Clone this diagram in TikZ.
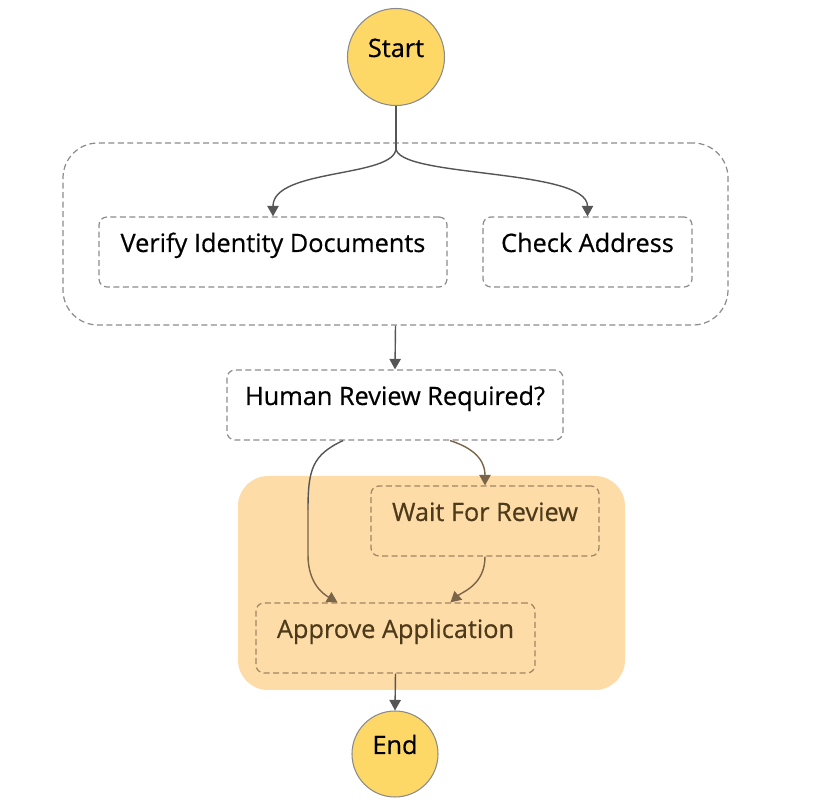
\documentclass[tikz,border=0pt]{standalone}
\usepackage{fontspec}
\setmainfont{Open Sans}[FakeBold=0.5]
\usepackage{tikz}
\usetikzlibrary{arrows.meta,calc}
\definecolor{startyellow}{HTML}{FDD866}
\definecolor{circleline}{HTML}{8A8A8A}
\definecolor{boxline}{HTML}{8C8C8C}
\definecolor{arrowgray}{HTML}{555555}
\definecolor{runfill}{HTML}{FDDCA8}
\definecolor{runline}{HTML}{A08562}
\definecolor{runtext}{HTML}{4D3A1A}
\definecolor{runarrow}{HTML}{7A6548}
\def\pu{0.02cm}
\begin{document}
\begin{tikzpicture}[x=0.02cm,y=-0.02cm,
  every node/.style={font=\fontsize{14.4}{17}\selectfont, text height=0.3cm, text depth=0.3cm, inner sep=0pt},
  state/.style={circle, draw=circleline, line width=0.6pt, fill=startyellow, minimum size=#1*\pu},
  task/.style={draw=boxline, dashed, dash pattern=on 3.4pt off 2pt, line width=0.7pt, rounded corners=0.16cm},
  runtask/.style={task, draw=runline, text=runtext},
  flow/.style={draw=arrowgray, line width=0.8pt, -{Triangle[length=6pt,width=6.5pt]}},
  runflow/.style={flow, draw=runarrow}]
\useasboundingbox (0,0) rectangle (833,810);
\node [task, rounded corners=0.7cm, minimum width=665*\pu, minimum height=182*\pu] (parallel) at (395.5,234) {};
\node [fill=runfill, rounded corners=0.6cm, minimum width=387*\pu, minimum height=214*\pu] (review run) at (431.5,583) {};
\node [state=97] (start) at (396,57) {Start};
\node [task, minimum width=348*\pu, minimum height=70*\pu] (verify) at (273,252) {Verify Identity Documents};
\node [task, minimum width=209*\pu, minimum height=70*\pu] (check) at (587.5,252) {Check Address};
\node [task, minimum width=336*\pu, minimum height=70*\pu] (review) at (395,405) {Human Review Required?};
\node [runtask, minimum width=228*\pu, minimum height=70*\pu] (wait) at (485,521) {Wait For Review};
\node [runtask, minimum width=279*\pu, minimum height=70*\pu] (approve) at (395.5,638) {Approve Application};
\node [state=86] (end) at (395,754) {End};
\coordinate (fork) at (396,148);
\draw [draw=arrowgray, line width=0.8pt] (start.south) -- (fork);
\draw [flow] (fork) .. controls (396,178) and (273,168) .. (verify.north);
\draw [flow] (fork) .. controls (396,178) and (587.5,168) .. (check.north);
\draw [flow] (parallel.south) -- (review.north);
\draw [draw=arrowgray, line width=0.8pt] ($(review.south)+(-52,0)$) .. controls (312,455) and (308,470) .. (308,510);
\draw [runflow] (308,510) -- (308,555) .. controls (308,585) and (325,595) .. ($(approve.north)+(-58,0)$);
\draw [runflow] ($(review.south)+(55,0)$) .. controls (480,450) and (485,465) .. (wait.north);
\draw [runflow] (wait.south) .. controls (485,585) and (462,592) .. ($(approve.north)+(55,0)$);
\draw [flow] (approve.south) -- (end.north);
\end{tikzpicture}
\end{document}
